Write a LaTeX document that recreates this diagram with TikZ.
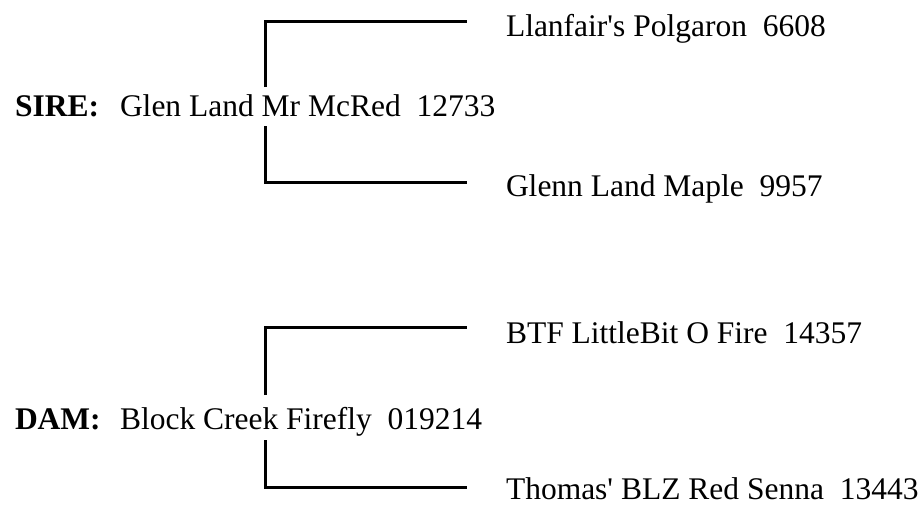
\documentclass[tikz,border=0pt]{standalone}
\usepackage{fontspec}
\setmainfont{Liberation Serif}
\begin{document}
\begin{tikzpicture}[x=1pt,y=-1pt,
  lbl/.style={anchor=base west,inner sep=0pt,outer sep=0pt,font=\fontsize{31.5}{36}\selectfont},
  role/.style={lbl,font=\fontsize{31.5}{36}\selectfont\bfseries},
  bracket/.style={line width=3pt,line join=miter,line cap=butt}]
\useasboundingbox (0,0) rectangle (924,506);
% SIRE block
\node[role] (sirelbl) at (15,116) {SIRE:};
\node[lbl] (sire) at (120,116) {Glen Land Mr McRed\ \ 12733};
\node[lbl] (sp1) at (506,36) {Llanfair\textquotesingle s Polgaron\ \ 6608};
\node[lbl] (sp2) at (506,196) {Glenn Land Maple\ \ 9957};
\coordinate (sa) at (265,87);
\coordinate (sb) at (467,21);
\coordinate (sc) at (265,126);
\coordinate (sd) at (467,182);
\draw[bracket] (sa) |- (sb);
\draw[bracket] (sc) |- (sd);
% DAM block
\node[role] (damlbl) at (15,429) {DAM:};
\node[lbl] (dam) at (120,429) {Block Creek Firefly\ \ 019214};
\node[lbl] (dp1) at (506,343) {BTF LittleBit O Fire\ \ 14357};
\node[lbl] (dp2) at (506,499) {Thomas\textquotesingle\ BLZ Red Senna\ \ 13443};
\coordinate (da) at (265,395);
\coordinate (db) at (467,327);
\coordinate (dc) at (265,440);
\coordinate (dd) at (467,487);
\draw[bracket] (da) |- (db);
\draw[bracket] (dc) |- (dd);
\end{tikzpicture}
\end{document}
